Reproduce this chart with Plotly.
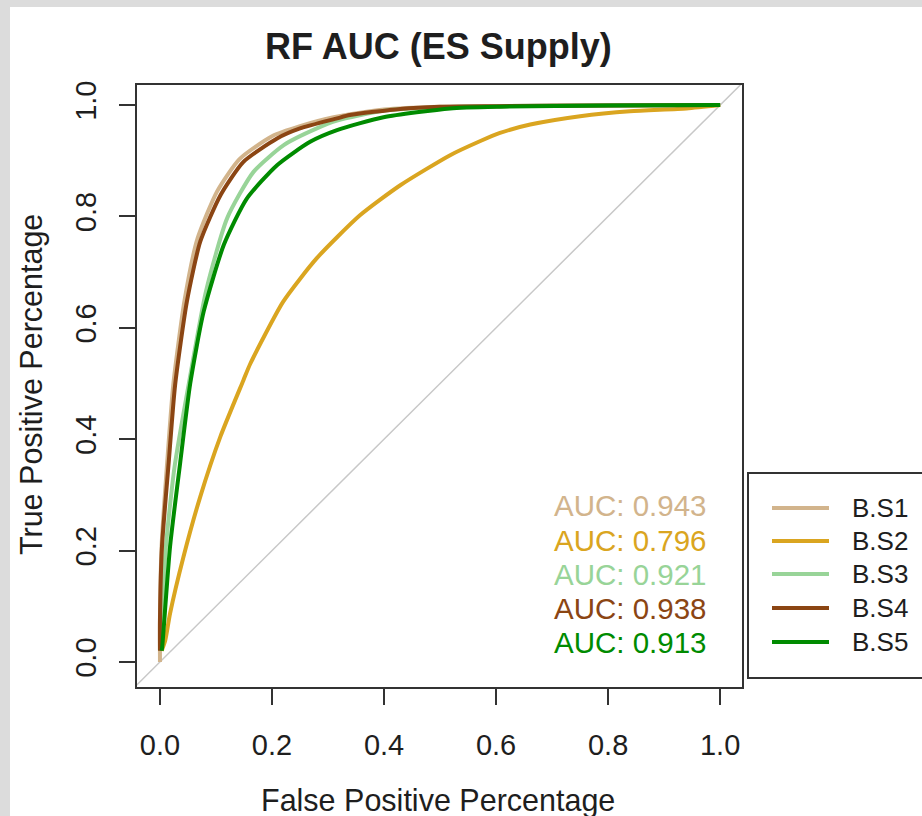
import plotly.graph_objects as go

# ---------------- data ----------------
SERIES = ["B.S1", "B.S2", "B.S3", "B.S4", "B.S5"]
COLORS = ["#D2B48C", "#DAA520", "#98D498", "#8B4513", "#008B00"]
AUC_LABELS = ["AUC: 0.943", "AUC: 0.796", "AUC: 0.921", "AUC: 0.938", "AUC: 0.913"]

FPR_S1 = [0.0, 0.0, 0.003, 0.013, 0.024, 0.044, 0.067, 0.102, 0.142, 0.200, 0.250, 0.310, 0.400, 0.500, 0.700, 1.0]
TPR_S1 = [0.0, 0.080, 0.210, 0.360, 0.500, 0.650, 0.760, 0.845, 0.903, 0.944, 0.962, 0.978, 0.992, 0.997, 0.999, 1.0]

FPR_S2 = [0.003, 0.0095, 0.018, 0.042, 0.072, 0.108, 0.149, 0.161, 0.220, 0.280, 0.357, 0.429, 0.518, 0.571, 0.607, 0.661, 0.750, 0.839, 0.940, 1.0]
TPR_S2 = [0.020, 0.039, 0.087, 0.189, 0.297, 0.405, 0.506, 0.535, 0.647, 0.725, 0.802, 0.856, 0.910, 0.935, 0.950, 0.965, 0.980, 0.989, 0.994, 1.0]

FPR_S3 = [0.002, 0.010, 0.026, 0.051, 0.082, 0.120, 0.167, 0.221, 0.280, 0.316, 0.400, 0.500, 0.700, 1.0]
TPR_S3 = [0.030, 0.200, 0.350, 0.497, 0.665, 0.797, 0.880, 0.928, 0.958, 0.972, 0.990, 0.996, 0.999, 1.0]

FPR_S4 = [0.0, 0.0, 0.0036, 0.0155, 0.027, 0.048, 0.072, 0.108, 0.149, 0.209, 0.250, 0.316, 0.339, 0.429, 0.500, 0.600, 0.800, 1.0]
TPR_S4 = [0.020, 0.075, 0.207, 0.357, 0.497, 0.647, 0.755, 0.838, 0.898, 0.940, 0.958, 0.976, 0.982, 0.993, 0.997, 0.998, 0.999, 1.0]

FPR_S5 = [0.003, 0.004, 0.018, 0.036, 0.054, 0.078, 0.114, 0.155, 0.209, 0.268, 0.316, 0.399, 0.518, 0.607, 0.800, 1.0]
TPR_S5 = [0.020, 0.027, 0.207, 0.357, 0.500, 0.629, 0.749, 0.832, 0.892, 0.934, 0.955, 0.978, 0.994, 0.997, 0.999, 1.0]

DIAG = [-0.05, 1.05]
TICKS = [0.0, 0.2, 0.4, 0.6, 0.8, 1.0]
TICK_TEXT = ["0.0", "0.2", "0.4", "0.6", "0.8", "1.0"]

FPRS = [FPR_S1, FPR_S2, FPR_S3, FPR_S4, FPR_S5]
TPRS = [TPR_S1, TPR_S2, TPR_S3, TPR_S4, TPR_S5]

# ---------------- layout geometry (page pixels) ----------------
W, H = 922, 816
L, R, T, B = 137, 742, 85, 687   # plot box
FONT = "Liberation Sans, Arial, sans-serif"
INK = "#1e1e1e"


def px(x):
    return (x - L) / (R - L)


def py(y):
    return (B - y) / (B - T)


fig = go.Figure()

fig.add_trace(go.Scatter(x=DIAG, y=DIAG, mode="lines",
                         line=dict(color="#c8c8c8", width=1.5),
                         showlegend=False, hoverinfo="skip"))

for name, col, fx, ty in zip(SERIES, COLORS, FPRS, TPRS):
    fig.add_trace(go.Scatter(x=fx, y=ty, mode="lines", name=name,
                             line=dict(color=col, width=4, shape="spline", smoothing=0.6),
                             showlegend=False))

shapes = []
annotations = []

# white page panel over grey frame
shapes.append(dict(type="rect", xref="paper", yref="paper",
                   x0=px(10), x1=px(930), y0=py(7), y1=py(830),
                   fillcolor="white", line=dict(width=0), layer="below"))

# legend box
shapes.append(dict(type="rect", xref="paper", yref="paper",
                   x0=px(748), x1=px(940), y0=py(473), y1=py(678),
                   fillcolor="rgba(0,0,0,0)", line=dict(color="#333333", width=2)))

legend_rows = [508, 541, 574, 608, 642]
auc_rows = [505, 540, 574, 608, 642]
for name, col, ly, ay, lab in zip(SERIES, COLORS, legend_rows, auc_rows, AUC_LABELS):
    shapes.append(dict(type="line", xref="paper", yref="paper",
                       x0=px(772), x1=px(829), y0=py(ly), y1=py(ly),
                       line=dict(color=col, width=4)))
    annotations.append(dict(text=name, xref="paper", yref="paper",
                            x=px(850), y=py(ly), xanchor="left", yanchor="middle",
                            showarrow=False, font=dict(family=FONT, size=26, color=INK)))
    annotations.append(dict(text=lab, xref="paper", yref="paper",
                            x=px(630), y=py(ay), xanchor="center", yanchor="middle",
                            showarrow=False, font=dict(family=FONT, size=29.5, color=col)))

# title and axis titles
annotations.append(dict(text="<b>RF AUC (ES Supply)</b>", xref="paper", yref="paper",
                        x=px(438), y=py(47), xanchor="center", yanchor="middle",
                        showarrow=False, font=dict(family=FONT, size=36, color=INK)))
annotations.append(dict(text="False Positive Percentage", xref="paper", yref="paper",
                        x=px(438), y=py(800), xanchor="center", yanchor="middle",
                        showarrow=False, font=dict(family=FONT, size=30.5, color=INK)))
annotations.append(dict(text="True Positive Percentage", xref="paper", yref="paper",
                        x=px(31), y=py(385), xanchor="center", yanchor="middle",
                        textangle=-90,
                        showarrow=False, font=dict(family=FONT, size=30.5, color=INK)))

axis_common = dict(showgrid=False, zeroline=False, showline=True, mirror=True,
                   linecolor="#333333", linewidth=2, ticks="outside", ticklen=16,
                   tickwidth=2, tickcolor="#333333", tickvals=TICKS, ticktext=TICK_TEXT,
                   tickfont=dict(family=FONT, size=29, color=INK))

fig.update_layout(
    width=W, height=H,
    margin=dict(l=L, r=W - R, t=T, b=H - B),
    paper_bgcolor="#dcdcdc", plot_bgcolor="white",
    xaxis=dict(range=[-0.041, 1.039], ticklabelstandoff=15, **axis_common),
    yaxis=dict(range=[-0.045, 1.036], tickangle=-90, ticklabelstandoff=11, **axis_common),
    shapes=shapes, annotations=annotations, showlegend=False,
)

fig.write_html("out.html")
